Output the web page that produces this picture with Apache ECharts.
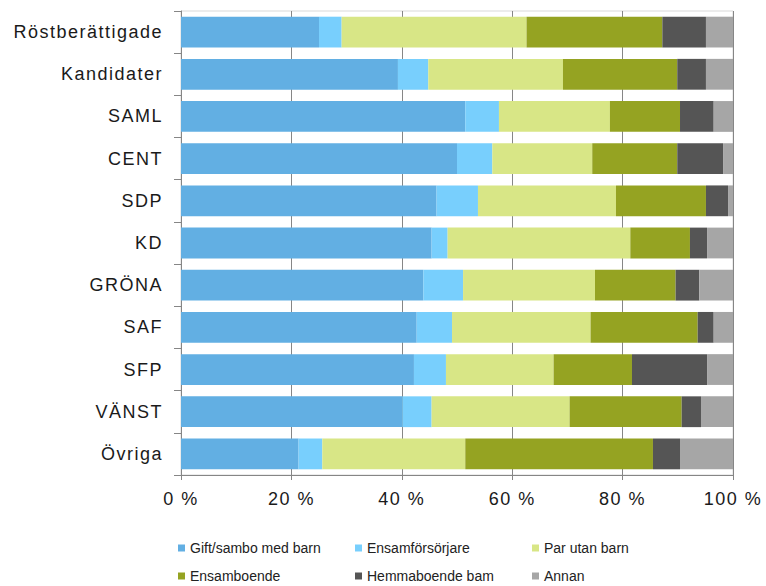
<!DOCTYPE html>
<html><head><meta charset="utf-8">
<script src="https://cdn.jsdelivr.net/npm/echarts@6/dist/echarts.min.js"></script>
<style>
html,body{margin:0;padding:0;background:#fff}
#c{width:766px;height:586px}
#c svg text[style*="18px"]{letter-spacing:1.5px}
</style>
</head><body><div id="c"></div>
<script>
const categories = ['Röstberättigade','Kandidater','SAML','CENT','SDP','KD','GRÖNA','SAF','SFP','VÄNST','Övriga'];
const seriesNames = ['Gift/sambo med barn','Ensamförsörjare','Par utan barn','Ensamboende','Hemmaboende bam','Annan'];
const giftSambo   = [25.0, 39.3, 51.5, 50.0, 46.3, 45.4, 43.9, 42.7, 42.2, 40.1, 21.3];
const ensamfors   = [ 4.1,  5.5,  6.1,  6.4,  7.5,  2.9,  7.2,  6.4,  5.8,  5.3,  4.3];
const parUtanBarn = [33.5, 24.4, 20.1, 18.1, 25.0, 33.1, 23.9, 25.1, 19.5, 25.0, 25.9];
const ensamboende = [24.6, 20.7, 12.7, 15.4, 16.3, 10.8, 14.6, 19.4, 14.2, 20.3, 34.0];
const hemmaboende = [ 7.9,  5.2,  6.1,  8.3,  4.0,  3.1,  4.3,  2.9, 13.6,  3.5,  4.9];
const annan       = [ 4.9,  4.9,  3.5,  1.8,  0.9,  4.7,  6.1,  3.5,  4.7,  5.8,  9.6];
const xTicks = [0, 20, 40, 60, 80, 100];

const values = [giftSambo, ensamfors, parUtanBarn, ensamboende, hemmaboende, annan];
const colors = ['#62AFE3', '#78CFFD', '#D8E686', '#95A322', '#555555', '#A6A6A6'];

const legendPos = [
  {left: 178, top: 541}, {left: 355, top: 541}, {left: 532, top: 541},
  {left: 178, top: 569}, {left: 355, top: 569}, {left: 532, top: 569}
];

const chart = echarts.init(document.getElementById('c'), null, {renderer: 'svg'});
chart.setOption({
  animation: false,
  color: colors,
  grid: {left: 181, right: 33, top: 11, bottom: 111, show: true, borderColor: '#D9D9D9', borderWidth: 1},
  legend: seriesNames.map((n, i) => ({
    data: [n], left: legendPos[i].left, top: legendPos[i].top, padding: 0,
    icon: 'rect', itemWidth: 7, itemHeight: 7, itemGap: 4,
    textStyle: {fontFamily: 'Liberation Sans, Arial', fontSize: 14, color: '#222'},
    selectedMode: false
  })),
  xAxis: {
    type: 'value', min: 0, max: 100, interval: 20,
    axisLine: {show: true, lineStyle: {color: '#868686'}},
    axisTick: {show: true, length: 5, lineStyle: {color: '#868686'}},
    splitLine: {show: true, lineStyle: {color: '#868686', width: 1}},
    axisLabel: {formatter: v => xTicks.includes(v) ? v + ' %' : '', fontFamily: 'Liberation Sans, Arial', fontSize: 18, color: '#1a1a1a', margin: 15}
  },
  yAxis: {
    type: 'category', data: categories, inverse: true,
    axisLine: {show: true, lineStyle: {color: '#868686'}},
    axisTick: {show: true, length: 7, lineStyle: {color: '#868686'}},
    axisLabel: {fontFamily: 'Liberation Sans, Arial', fontSize: 18, color: '#1a1a1a', margin: 18}
  },
  series: seriesNames.map((n, i) => ({
    name: n, type: 'bar', stack: 'total', data: values[i],
    barWidth: '73%', itemStyle: {color: colors[i]}
  }))
});
</script></body></html>
